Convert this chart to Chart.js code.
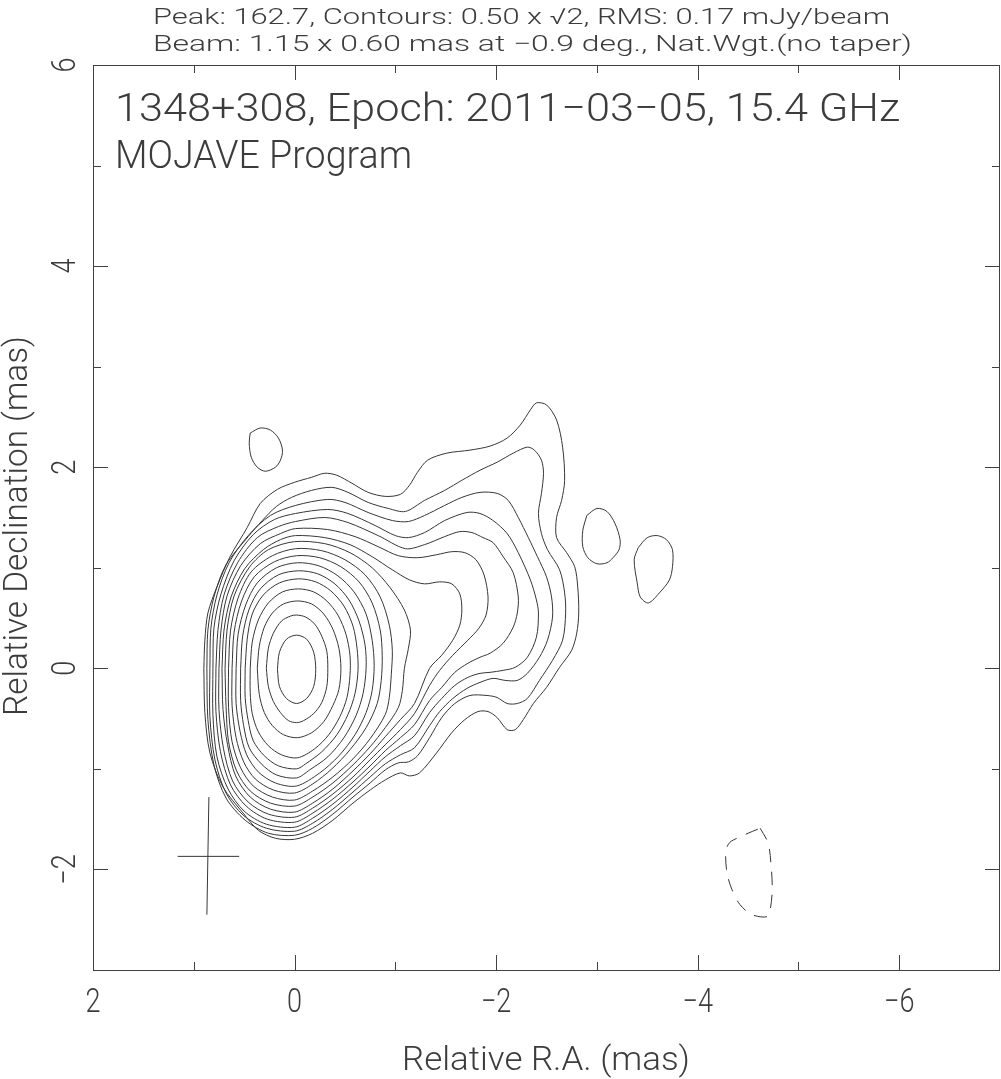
<!DOCTYPE html>
<html><head><meta charset="utf-8">
<script src="https://cdn.jsdelivr.net/npm/chart.js@4.4.1/dist/chart.umd.min.js"></script>
<style>html,body{margin:0;padding:0;background:#fff;}#wrap{width:1001px;height:1079px;}</style>
</head><body><div id="wrap"><canvas id="c" width="1001" height="1079"></canvas></div>
<script>
// ---- text ----
const titleLine1 = 'Peak: 162.7, Contours: 0.50 x \u221A2, RMS: 0.17 mJy/beam';
const titleLine2 = 'Beam: 1.15 x 0.60 mas at \u22120.9 deg., Nat.Wgt.(no taper)';
const sourceLabel = '1348+308, Epoch: 2011\u221203\u221205, 15.4 GHz';
const programLabel = 'MOJAVE Program';
const xAxisTitle = 'Relative R.A. (mas)';
const yAxisTitle = 'Relative Declination (mas)';
const xTickValues = [2, 0, -2, -4, -6];
const xTickLabels = ['2', '0', '\u22122', '\u22124', '\u22126'];
const yTickValues = [6, 4, 2, 0, -2];
const yTickLabels = ['6', '4', '2', '0', '\u22122'];
const xMinorTicks = [1, -1, -3, -5];
const yMinorTicks = [5, 3, 1, -1];
const xMajorTicks = [0, -2, -4, -6];
const yMajorTicks = [4, 2, 0, -2];
const contourLevels = [0.50, 0.71, 1.00, 1.41, 2.00, 2.83, 4.00, 5.66, 8.00, 11.3, 16.0, 22.6, 32.0, 45.3, 64.0, 90.5, 128.0];

// ---- contour data: [RA offset, Dec offset] in mas ----
const lev00 = [[0.90,0.00],[0.89,0.28],[0.86,0.55],[0.77,0.81],[0.64,1.11],[0.47,1.40],[0.34,1.64],[0.17,1.78],[0.00,1.85],[-0.17,1.90],[-0.30,1.94],[-0.42,1.92],[-0.57,1.84],[-0.73,1.75],[-0.90,1.71],[-1.05,1.73],[-1.14,1.82],[-1.22,1.95],[-1.32,2.07],[-1.51,2.14],[-1.74,2.17],[-1.94,2.21],[-2.11,2.29],[-2.24,2.42],[-2.34,2.57],[-2.40,2.64],[-2.50,2.62],[-2.60,2.47],[-2.66,2.20],[-2.68,1.87],[-2.65,1.67],[-2.60,1.50],[-2.60,1.30],[-2.70,1.15],[-2.78,1.01],[-2.81,0.81],[-2.82,0.55],[-2.80,0.35],[-2.75,0.18],[-2.63,0.01],[-2.50,-0.19],[-2.37,-0.35],[-2.27,-0.51],[-2.19,-0.61],[-2.11,-0.61],[-2.01,-0.49],[-1.92,-0.43],[-1.82,-0.43],[-1.69,-0.51],[-1.56,-0.64],[-1.41,-0.84],[-1.24,-1.04],[-1.14,-1.07],[-1.05,-1.04],[-0.90,-1.11],[-0.75,-1.21],[-0.58,-1.34],[-0.38,-1.51],[-0.18,-1.64],[0.00,-1.70],[0.19,-1.69],[0.36,-1.61],[0.51,-1.44],[0.71,-1.18],[0.84,-0.84],[0.89,-0.44],[0.90,0.00]];
const lev01 = [[0.87,0.00],[0.86,0.38],[0.80,0.71],[0.68,1.03],[0.46,1.31],[0.32,1.47],[0.18,1.61],[0.03,1.70],[-0.17,1.77],[-0.37,1.80],[-0.53,1.75],[-0.73,1.65],[-0.93,1.59],[-1.10,1.56],[-1.29,1.67],[-1.49,1.77],[-1.66,1.87],[-1.84,1.97],[-2.01,2.05],[-2.17,2.14],[-2.31,2.20],[-2.38,2.17],[-2.45,2.07],[-2.47,1.94],[-2.45,1.74],[-2.42,1.54],[-2.45,1.34],[-2.51,1.18],[-2.63,0.98],[-2.68,0.75],[-2.69,0.55],[-2.66,0.28],[-2.56,0.08],[-2.43,-0.12],[-2.31,-0.30],[-2.21,-0.35],[-2.11,-0.35],[-2.01,-0.29],[-1.91,-0.27],[-1.74,-0.27],[-1.59,-0.35],[-1.46,-0.49],[-1.34,-0.69],[-1.22,-0.87],[-1.13,-0.93],[-1.03,-0.94],[-0.90,-1.01],[-0.75,-1.14],[-0.58,-1.28],[-0.38,-1.45],[-0.18,-1.59],[0.00,-1.66],[0.26,-1.64],[0.49,-1.51],[0.68,-1.29],[0.80,-0.96],[0.86,-0.51],[0.87,0.00]];
const lev02 = [[0.84,0.00],[0.83,0.40],[0.77,0.73],[0.65,1.05],[0.46,1.32],[0.24,1.52],[-0.01,1.62],[-0.33,1.68],[-0.50,1.65],[-0.73,1.55],[-0.97,1.47],[-1.13,1.46],[-1.29,1.52],[-1.49,1.62],[-1.66,1.70],[-1.84,1.75],[-2.01,1.74],[-2.12,1.67],[-2.22,1.50],[-2.32,1.30],[-2.41,1.11],[-2.50,0.91],[-2.55,0.71],[-2.56,0.51],[-2.51,0.28],[-2.43,0.11],[-2.31,-0.05],[-2.21,-0.12],[-2.09,-0.12],[-1.97,-0.10],[-1.84,-0.14],[-1.71,-0.20],[-1.57,-0.30],[-1.44,-0.43],[-1.34,-0.57],[-1.19,-0.79],[-1.05,-0.86],[-0.90,-0.95],[-0.75,-1.08],[-0.58,-1.23],[-0.38,-1.40],[-0.18,-1.54],[0.00,-1.62],[0.28,-1.59],[0.51,-1.46],[0.68,-1.24],[0.79,-0.91],[0.84,-0.48],[0.84,0.00]];
const lev03 = [[0.81,0.00],[0.80,0.40],[0.73,0.74],[0.60,1.07],[0.41,1.33],[0.20,1.48],[-0.01,1.54],[-0.33,1.58],[-0.53,1.54],[-0.80,1.42],[-1.00,1.32],[-1.13,1.30],[-1.29,1.35],[-1.49,1.47],[-1.71,1.55],[-1.84,1.54],[-1.97,1.47],[-2.11,1.34],[-2.22,1.15],[-2.34,0.88],[-2.40,0.68],[-2.42,0.55],[-2.40,0.31],[-2.31,0.11],[-2.19,0.01],[-2.07,-0.02],[-1.94,-0.04],[-1.84,-0.05],[-1.72,-0.09],[-1.59,-0.17],[-1.46,-0.30],[-1.34,-0.44],[-1.19,-0.67],[-1.05,-0.77],[-0.90,-0.88],[-0.75,-1.02],[-0.58,-1.18],[-0.38,-1.35],[-0.18,-1.49],[0.00,-1.58],[0.28,-1.55],[0.50,-1.42],[0.66,-1.20],[0.77,-0.88],[0.81,-0.46],[0.81,0.00]];
const lev04 = [[0.78,0.00],[0.76,0.38],[0.70,0.73],[0.565,1.05],[0.37,1.30],[0.16,1.41],[-0.01,1.46],[-0.30,1.50],[-0.53,1.45],[-0.83,1.32],[-1.10,1.19],[-1.29,1.23],[-1.49,1.31],[-1.64,1.36],[-1.76,1.35],[-1.87,1.30],[-1.97,1.25],[-2.07,1.11],[-2.17,0.95],[-2.22,0.71],[-2.21,0.55],[-2.17,0.41],[-2.07,0.25],[-1.94,0.15],[-1.84,0.11],[-1.72,0.05],[-1.59,-0.04],[-1.46,-0.19],[-1.34,-0.32],[-1.19,-0.56],[-1.05,-0.69],[-0.90,-0.82],[-0.75,-0.97],[-0.58,-1.13],[-0.38,-1.30],[-0.18,-1.44],[0.00,-1.53],[0.27,-1.50],[0.48,-1.37],[0.635,-1.16],[0.735,-0.83],[0.78,-0.43],[0.78,0.00]];
const lev05 = [[0.75,0.00],[0.73,0.38],[0.67,0.72],[0.535,1.02],[0.34,1.24],[0.14,1.34],[-0.01,1.39],[-0.33,1.38],[-0.60,1.31],[-0.83,1.21],[-1.03,1.12],[-1.22,1.10],[-1.41,1.13],[-1.56,1.16],[-1.69,1.15],[-1.80,1.08],[-1.88,0.93],[-1.92,0.71],[-1.90,0.53],[-1.83,0.40],[-1.72,0.28],[-1.57,0.13],[-1.44,-0.02],[-1.34,-0.17],[-1.19,-0.45],[-1.05,-0.61],[-0.90,-0.76],[-0.75,-0.91],[-0.58,-1.08],[-0.38,-1.25],[-0.18,-1.39],[0.00,-1.48],[0.26,-1.45],[0.46,-1.33],[0.615,-1.12],[0.705,-0.80],[0.75,-0.41],[0.75,0.00]];
const lev06 = [[0.72,0.00],[0.70,0.38],[0.63,0.71],[0.495,0.99],[0.31,1.18],[0.14,1.28],[-0.01,1.32],[-0.30,1.30],[-0.55,1.23],[-0.77,1.11],[-0.97,0.98],[-1.14,0.88],[-1.29,0.84],[-1.44,0.86],[-1.56,0.84],[-1.64,0.74],[-1.66,0.58],[-1.64,0.43],[-1.57,0.28],[-1.46,0.13],[-1.34,0.00],[-1.19,-0.35],[-1.05,-0.51],[-0.90,-0.68],[-0.75,-0.85],[-0.58,-1.02],[-0.38,-1.20],[-0.18,-1.34],[0.00,-1.43],[0.24,-1.40],[0.44,-1.28],[0.585,-1.07],[0.665,-0.76],[0.71,-0.41],[0.72,0.00]];
const lev07 = [[0.69,0.00],[0.67,0.38],[0.60,0.72],[0.445,1.01],[0.26,1.18],[0.00,1.26],[-0.30,1.24],[-0.55,1.15],[-0.77,1.00],[-0.95,0.80],[-1.09,0.58],[-1.15,0.38],[-1.13,0.20],[-1.09,0.00],[-1.07,-0.22],[-1.03,-0.39],[-0.90,-0.59],[-0.75,-0.78],[-0.58,-0.96],[-0.38,-1.14],[-0.18,-1.28],[0.00,-1.37],[0.24,-1.34],[0.44,-1.22],[0.575,-1.02],[0.655,-0.73],[0.68,-0.37],[0.69,0.00]];
const lev08 = [[0.655,0.00],[0.635,0.38],[0.56,0.70],[0.43,0.96],[0.22,1.12],[-0.01,1.19],[-0.27,1.17],[-0.50,1.08],[-0.70,0.93],[-0.85,0.71],[-0.94,0.43],[-0.97,0.18],[-0.96,-0.06],[-0.94,-0.29],[-0.90,-0.46],[-0.75,-0.70],[-0.58,-0.90],[-0.38,-1.08],[-0.18,-1.22],[0.00,-1.31],[0.22,-1.28],[0.41,-1.17],[0.535,-0.99],[0.62,-0.73],[0.655,-0.39],[0.655,0.00]];
const lev09 = [[0.62,0.00],[0.60,0.36],[0.525,0.67],[0.40,0.91],[0.20,1.06],[-0.02,1.12],[-0.25,1.10],[-0.46,1.01],[-0.64,0.86],[-0.77,0.65],[-0.85,0.38],[-0.87,0.13],[-0.86,-0.12],[-0.82,-0.35],[-0.71,-0.59],[-0.55,-0.81],[-0.37,-1.00],[-0.18,-1.15],[0.00,-1.24],[0.21,-1.21],[0.39,-1.10],[0.505,-0.93],[0.58,-0.69],[0.62,-0.37],[0.62,0.00]];
const lev10 = [[0.58,0.00],[0.56,0.34],[0.485,0.63],[0.37,0.85],[0.18,1.00],[-0.03,1.05],[-0.24,1.02],[-0.43,0.92],[-0.59,0.76],[-0.71,0.54],[-0.77,0.28],[-0.79,0.03],[-0.77,-0.22],[-0.71,-0.44],[-0.60,-0.66],[-0.44,-0.87],[-0.25,-1.04],[-0.02,-1.17],[0.19,-1.14],[0.36,-1.03],[0.475,-0.86],[0.54,-0.63],[0.58,-0.35],[0.58,0.00]];
const lev11 = [[0.535,0.00],[0.515,0.32],[0.45,0.59],[0.34,0.79],[0.16,0.93],[-0.04,0.97],[-0.23,0.94],[-0.40,0.84],[-0.54,0.68],[-0.64,0.47],[-0.70,0.23],[-0.71,0.00],[-0.68,-0.25],[-0.61,-0.47],[-0.49,-0.69],[-0.33,-0.88],[-0.15,-1.01],[-0.02,-1.09],[0.18,-1.06],[0.33,-0.95],[0.45,-0.79],[0.505,-0.57],[0.535,-0.32],[0.535,0.00]];
const lev12 = [[0.49,0.00],[0.47,0.29],[0.42,0.54],[0.31,0.73],[0.15,0.85],[-0.04,0.89],[-0.21,0.86],[-0.36,0.77],[-0.49,0.62],[-0.58,0.42],[-0.62,0.20],[-0.63,-0.02],[-0.60,-0.25],[-0.53,-0.46],[-0.42,-0.66],[-0.27,-0.83],[-0.11,-0.95],[-0.02,-1.00],[0.16,-0.97],[0.30,-0.87],[0.41,-0.72],[0.46,-0.52],[0.49,-0.29],[0.49,0.00]];
const lev13 = [[0.44,0.00],[0.42,0.26],[0.36,0.48],[0.26,0.65],[0.12,0.76],[-0.04,0.79],[-0.19,0.76],[-0.32,0.67],[-0.43,0.53],[-0.51,0.34],[-0.55,0.13],[-0.55,-0.07],[-0.52,-0.29],[-0.45,-0.48],[-0.34,-0.66],[-0.20,-0.80],[-0.03,-0.89],[0.13,-0.86],[0.26,-0.77],[0.36,-0.63],[0.42,-0.45],[0.44,-0.24],[0.44,0.00]];
const lev14 = [[0.37,0.00],[0.35,0.22],[0.30,0.41],[0.22,0.55],[0.11,0.64],[-0.03,0.67],[-0.17,0.64],[-0.29,0.54],[-0.38,0.39],[-0.44,0.20],[-0.46,0.00],[-0.44,-0.21],[-0.38,-0.37],[-0.29,-0.53],[-0.17,-0.64],[-0.03,-0.69],[0.11,-0.66],[0.22,-0.57],[0.30,-0.44],[0.35,-0.26],[0.37,0.00]];
const lev15 = [[0.28,0.00],[0.26,0.20],[0.21,0.35],[0.13,0.47],[0.04,0.52],[-0.02,0.53],[-0.11,0.51],[-0.20,0.44],[-0.27,0.32],[-0.32,0.17],[-0.33,0.00],[-0.32,-0.18],[-0.27,-0.34],[-0.19,-0.45],[-0.09,-0.52],[-0.02,-0.54],[0.06,-0.52],[0.14,-0.44],[0.21,-0.33],[0.26,-0.18],[0.28,0.00]];
const lev16 = [[0.17,-0.01],[0.15,0.16],[0.08,0.29],[-0.02,0.33],[-0.12,0.29],[-0.19,0.16],[-0.21,-0.01],[-0.19,-0.18],[-0.12,-0.30],[-0.02,-0.35],[0.08,-0.30],[0.15,-0.18],[0.17,-0.01]];
// isolated lowest-level islands
const island1 = [[0.44,2.34],[0.34,2.39],[0.24,2.37],[0.16,2.29],[0.12,2.17],[0.14,2.07],[0.19,2.00],[0.29,1.96],[0.37,2.00],[0.43,2.10],[0.45,2.24],[0.44,2.34]];
const island2 = [[-2.90,1.52],[-3.00,1.59],[-3.10,1.56],[-3.18,1.44],[-3.23,1.28],[-3.22,1.18],[-3.16,1.10],[-3.10,1.05],[-3.00,1.04],[-2.91,1.10],[-2.86,1.21],[-2.86,1.37],[-2.90,1.52]];
const island3 = [[-3.41,1.20],[-3.50,1.30],[-3.60,1.32],[-3.69,1.28],[-3.75,1.18],[-3.75,1.01],[-3.72,0.88],[-3.62,0.75],[-3.51,0.65],[-3.43,0.71],[-3.40,0.85],[-3.37,1.08],[-3.41,1.20]];
// negative contour (-0.50 mJy/beam)
const negLevel = [[-4.62,-1.59],[-4.70,-1.74],[-4.73,-1.98],[-4.74,-2.20],[-4.72,-2.40],[-4.69,-2.47],[-4.54,-2.45],[-4.42,-2.35],[-4.34,-2.20],[-4.29,-2.03],[-4.28,-1.81],[-4.32,-1.73],[-4.39,-1.69],[-4.50,-1.64],[-4.62,-1.59]];
// restoring beam cross
const beamMajor = [[0.85,-1.28],[0.87,-2.45]];
const beamMinor = [[1.16,-1.87],[0.55,-1.87]];

const positive = [lev00, lev01, lev02, lev03, lev04, lev05, lev06, lev07, lev08, lev09, lev10, lev11, lev12, lev13, lev14, lev15, lev16];
const LINE = '#363636';
const TEXT = '#3c3c3c';
const FONT = 'Roboto, "DejaVu Sans", sans-serif';

const toPts = a => a.map(p => ({x: p[0], y: p[1]}));
const datasets = [];
positive.forEach((arr, i) => datasets.push({label: contourLevels[i] + ' mJy/beam', data: toPts(arr), showLine: true, borderColor: LINE, borderWidth: 1, pointRadius: 0, tension: 0.3, fill: false}));
[island1, island2, island3].forEach((arr, i) => datasets.push({label: 'island ' + (i + 1), data: toPts(arr), showLine: true, borderColor: LINE, borderWidth: 1, pointRadius: 0, tension: 0.3, fill: false}));
datasets.push({label: '-0.50 mJy/beam', data: toPts(negLevel), showLine: true, borderColor: LINE, borderWidth: 1, borderDash: [13, 10], pointRadius: 0, tension: 0.3, fill: false});
datasets.push({label: 'beam major', data: toPts(beamMajor), showLine: true, borderColor: LINE, borderWidth: 1, pointRadius: 0, tension: 0});
datasets.push({label: 'beam minor', data: toPts(beamMinor), showLine: true, borderColor: LINE, borderWidth: 1, pointRadius: 0, tension: 0});

function fitText(ctx, text, x, y, w, size, weight) {
  ctx.font = weight + ' ' + size + 'px ' + FONT;
  const m = ctx.measureText(text).width;
  ctx.save();
  ctx.translate(x, y);
  ctx.scale(w / m, 1);
  ctx.textAlign = 'left';
  ctx.textBaseline = 'alphabetic';
  ctx.fillText(text, 0, 0);
  ctx.restore();
}

const frameAndText = {
  id: 'frameAndText',
  afterDraw(chart) {
    const ctx = chart.ctx, a = chart.chartArea, xs = chart.scales.x, ys = chart.scales.y;
    ctx.save();
    ctx.strokeStyle = '#404040';
    ctx.lineWidth = 1;
    ctx.strokeRect(Math.round(a.left) + 0.5, Math.round(a.top) + 0.5, Math.round(a.right - a.left) - 1, Math.round(a.bottom - a.top));
    const seg = (x1, y1, x2, y2) => { ctx.beginPath(); ctx.moveTo(x1, y1); ctx.lineTo(x2, y2); ctx.stroke(); };
    const tickX = (v, len) => { const p = Math.round(xs.getPixelForValue(v)) + 0.5; seg(p, a.bottom, p, a.bottom - len); seg(p, a.top, p, a.top + len); };
    const tickY = (v, len) => { const p = Math.round(ys.getPixelForValue(v)) + 0.5; seg(a.left, p, a.left + len, p); seg(a.right, p, a.right - len, p); };
    xMajorTicks.forEach(v => tickX(v, 15)); xMinorTicks.forEach(v => tickX(v, 8));
    yMajorTicks.forEach(v => tickY(v, 15)); yMinorTicks.forEach(v => tickY(v, 8));
    ctx.fillStyle = TEXT;
    // tick labels
    ctx.font = '300 33px ' + FONT;
    xTickValues.forEach((v, i) => {
      const p = xs.getPixelForValue(v);
      ctx.save(); ctx.translate(p, 1012); ctx.scale(0.82, 1);
      ctx.textAlign = 'center'; ctx.textBaseline = 'alphabetic';
      ctx.fillText(xTickLabels[i], 0, 0); ctx.restore();
    });
    yTickValues.forEach((v, i) => {
      const p = ys.getPixelForValue(v);
      ctx.save(); ctx.translate(75, p); ctx.rotate(-Math.PI / 2); ctx.scale(0.82, 1);
      ctx.textAlign = 'center'; ctx.textBaseline = 'alphabetic';
      ctx.fillText(yTickLabels[i], 0, 0); ctx.restore();
    });
    // titles
    fitText(ctx, titleLine1, 153, 24, 737, 22, 300);
    fitText(ctx, titleLine2, 153, 51, 759, 22, 300);
    fitText(ctx, sourceLabel, 115, 121, 785, 39, 300);
    fitText(ctx, programLabel, 115, 168, 297, 39, 300);
    fitText(ctx, xAxisTitle, 402, 1070, 288, 34, 300);
    ctx.save(); ctx.translate(27, 716); ctx.rotate(-Math.PI / 2);
    fitText(ctx, yAxisTitle, 0, 0, 380, 34, 300);
    ctx.restore();
    ctx.restore();
  }
};

new Chart(document.getElementById('c'), {
  type: 'scatter',
  data: {datasets},
  options: {
    responsive: false,
    animation: false,
    layout: {padding: {left: 93, right: 1, top: 65, bottom: 109}},
    plugins: {legend: {display: false}, tooltip: {enabled: false}},
    scales: {
      x: {type: 'linear', min: -7, max: 2, reverse: true, display: false},
      y: {type: 'linear', min: -3, max: 6, display: false}
    }
  },
  plugins: [frameAndText]
});
</script>
</body></html>
